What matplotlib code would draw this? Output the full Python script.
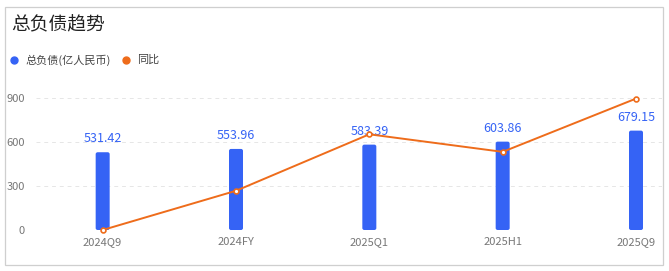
import matplotlib
matplotlib.use("Agg")
import matplotlib.pyplot as plt
from matplotlib.patches import Rectangle, FancyBboxPatch
from matplotlib.lines import Line2D

plt.rcParams['font.family'] = ['Noto Sans CJK SC', 'DejaVu Sans']

# Data
periods = ["2024Q9", "2024FY", "2025Q1", "2025H1", "2025Q9"]
total_liab = [531.42, 553.96, 583.39, 603.86, 679.15]   # 亿人民币
yoy = [0.00, 2.68, 6.54, 5.34, 8.98]                    # 同比 (hidden axis)

blue = "#3563F5"
orange = "#EE6C1B"

fig = plt.figure(figsize=(6.69, 2.71), dpi=100)
W, H = 669, 271

# card border
fig.patches.append(Rectangle((5 / W, 1 - 265 / H), 658 / W, 258 / H,
                             transform=fig.transFigure, fill=False,
                             edgecolor="#cfcfcf", linewidth=0.9))

fig.text(11 / W, 1 - 25 / H, "总负债趋势", fontsize=13.5, color="#222222",
         va="center", ha="left")

# legend
fig.add_artist(Line2D([14 / W], [1 - 60 / H], marker="o", color=blue,
                      markersize=5, transform=fig.transFigure))
fig.text(25 / W, 1 - 60 / H, "总负债(亿人民币)", fontsize=8, color="#444444",
         va="center")
fig.add_artist(Line2D([126 / W], [1 - 60 / H], marker="o", color=orange,
                      markersize=5, transform=fig.transFigure))
fig.text(137 / W, 1 - 60 / H, "同比", fontsize=8, color="#444444", va="center")

left, right = 36 / W, 662 / W
bottom, top = 1 - 230 / H, 1 - 98.3 / H
ax = fig.add_axes([left, bottom, right - left, top - bottom])
x = list(range(len(periods)))

bars = ax.bar(x, total_liab, width=0.105, color=blue, zorder=2)
# rounded bar corners
for b in bars:
    bx, by, bw, bh = b.get_x(), b.get_y(), b.get_width(), b.get_height()
    b.set_visible(False)
    ax.add_patch(FancyBboxPatch((bx, by), bw, bh,
                                boxstyle="round,pad=0,rounding_size=0.015",
                                mutation_aspect=900,
                                facecolor=blue, edgecolor="none", zorder=2))
for xi, v in zip(x, total_liab):
    ax.annotate(f"{v:.2f}", (xi, v), xytext=(0, 5), textcoords="offset points",
                ha="center", va="bottom", fontsize=9, color=blue, zorder=3)

ax.set_xlim(-0.5, 4.195)
ax.set_ylim(0, 900)
ax.set_yticks([0, 300, 600, 900])
ax.set_xticks(x)
ax.set_xticklabels(periods)
ax.tick_params(axis="both", length=0, labelsize=8, colors="#777777")
ax.tick_params(axis="x", pad=5)
ax.tick_params(axis="y", pad=8)
ax.grid(axis="y", linestyle=(0, (4, 4)), color="#e6e6e6", linewidth=0.7, zorder=0)
for s in ax.spines.values():
    s.set_visible(False)

ax2 = ax.twinx()
ax2.set_ylim(0, 9)
ax2.plot(x, yoy, color=orange, linewidth=1.4, marker="o", markersize=3.5,
         markerfacecolor="white", markeredgecolor=orange, markeredgewidth=1.2,
         clip_on=False, zorder=4)
ax2.set_yticks([])
for s in ax2.spines.values():
    s.set_visible(False)

fig.savefig("out.png", dpi=100)
